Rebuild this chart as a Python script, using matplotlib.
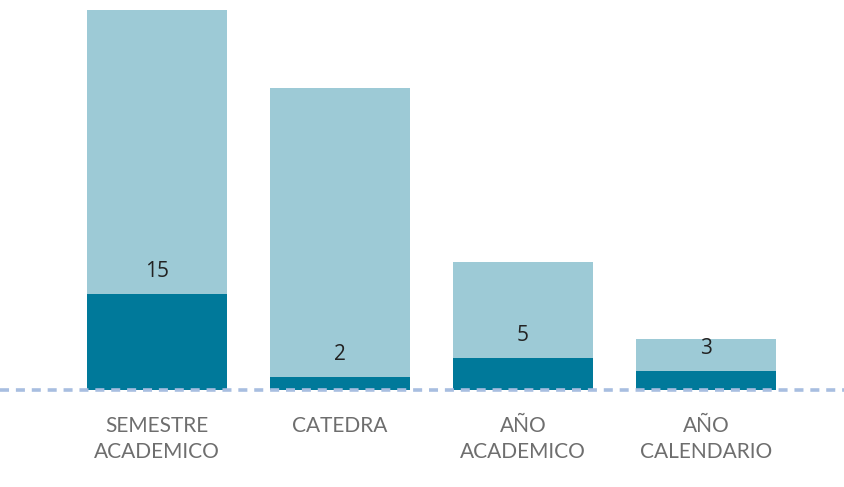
import matplotlib
matplotlib.use("Agg")
import matplotlib.pyplot as plt

categories = ["SEMESTRE\nACADEMICO", "CATEDRA", "AÑO\nACADEMICO", "AÑO\nCALENDARIO"]
dark_values = [15, 2, 5, 3]
light_values = [44.4, 45.2, 15, 5]

DARK = "#00799A"
LIGHT = "#9DCAD6"

fig = plt.figure(figsize=(8.45, 4.87), dpi=100)
ax = fig.add_axes([0, 97 / 487, 1, 390 / 487])

x = list(range(len(categories)))
ax.bar(x, dark_values, width=0.765, color=DARK, zorder=2)
ax.bar(x, light_values, width=0.765, bottom=dark_values, color=LIGHT, zorder=2)

for xi, d in zip(x, dark_values):
    ax.annotate(str(d), (xi, d), xytext=(0, 16), textcoords="offset points",
                ha="center", va="center", fontsize=15, color="#222222",
                family="Open Sans", zorder=4)

ax.axhline(0, color="#A8BEE0", linewidth=2.6, dashes=(2.5, 1.9),
           clip_on=False, zorder=3)

ax.set_xlim(-157 / 183, (845 - 157) / 183)
ax.set_ylim(0, 390 / 6.4)
ax.set_xticks(x)
ax.set_xticklabels(categories, fontsize=15, color="#6E6E6E", family="Lato",
                   linespacing=1.35)
ax.tick_params(axis="x", length=0, pad=19)
ax.set_yticks([])
for s in ax.spines.values():
    s.set_visible(False)

fig.savefig("out.png", dpi=100)
